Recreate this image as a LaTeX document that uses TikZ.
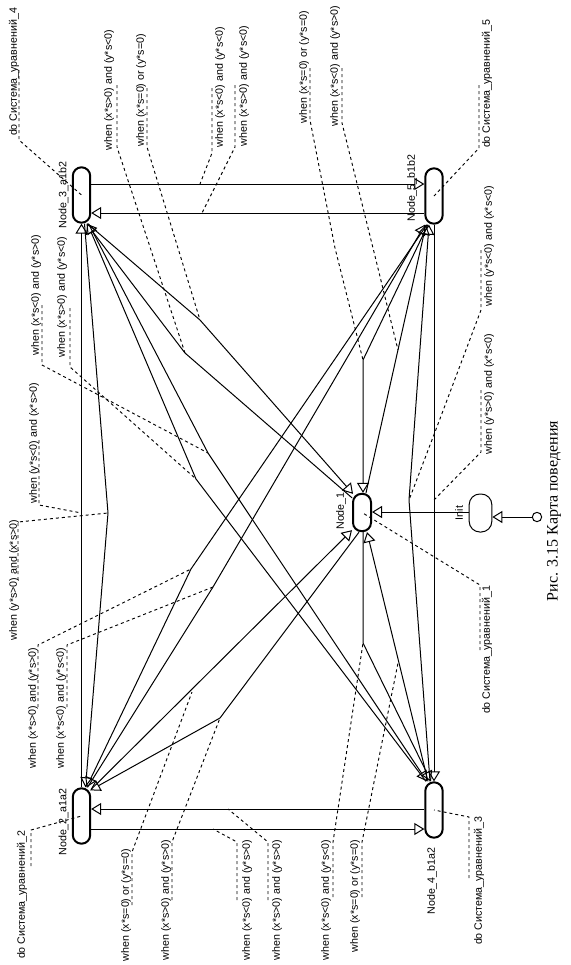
\documentclass[tikz,border=0pt]{standalone}
\usepackage{fontspec}
\setmainfont{Liberation Sans}
\newfontfamily\capfont{Liberation Serif}
\usetikzlibrary{arrows.meta,calc}
\tikzset{
  st/.style={draw, line width=1.5pt, rounded corners=6.4pt, minimum width=13pt, minimum height=41.5pt, inner sep=0pt},
  tr/.style={line width=0.75pt, -{Triangle[open,length=7.5pt,width=9pt]}},
  lead/.style={line width=0.7pt, dash pattern=on 2.25pt off 2.25pt},
  lbl/.style={rotate=90, font=\fontsize{8}{9.5}\selectfont, inner sep=0pt},
}
\begin{document}
\begin{tikzpicture}[x=0.75pt,y=-0.75pt]
\useasboundingbox (0,0) rectangle (571,965);
% states
\node[st] (N3) at (81.5,195) {};
\node[st] (N5) at (434,196) {};
\node[st] (N2) at (81.5,816) {};
\node[st] (N4) at (434,810) {};
\node[st, minimum width=13.5pt, minimum height=28pt] (N1) at (362,512.5) {};
\node[draw, line width=0.75pt, rounded corners=8pt, minimum width=17pt, minimum height=28.5pt, inner sep=0pt] (Init) at (480.5,513) {};
\node[draw, circle, line width=0.75pt, minimum size=7pt, inner sep=0pt] (S0) at (537,517) {};
% state names
\node[lbl] (nN3) at (63.5,195) {Node\_3\_a1b2};
\node[lbl] (nN5) at (412,188) {Node\_5\_b1b2};
\node[lbl] (nN1) at (341,511) {Node\_1};
\node[lbl] (nInit) at (459,513) {Init};
\node[lbl] (nN2) at (63.5,822) {Node\_2\_a1a2};
\node[lbl] (nN4) at (432,881) {Node\_4\_b1a2};
% helper coordinates
\coordinate (y184) at (0,184);
\coordinate (y213) at (0,213);
\coordinate (y809) at (0,809);
\coordinate (y829) at (0,829);
\coordinate (y517) at (0,517);
\coordinate (y512) at (0,512);
% bend / attach points
\coordinate (a1) at (200,184);
\coordinate (a2) at (202,213);
\coordinate (a3) at (213,829);
\coordinate (a4) at (228,809);
\coordinate (a5) at (81.5,513);
\coordinate (b6) at (108,513);
\coordinate (a7) at (434,500);
\coordinate (b8) at (409,500);
\coordinate (b9) at (200,320);
\coordinate (b10) at (185,353);
\coordinate (b11) at (363,360);
\coordinate (a12) at (192,692);
\coordinate (b13) at (220,718);
\coordinate (a14) at (398,663);
\coordinate (b15) at (363,643);
\coordinate (b16) at (208,453);
\coordinate (b17) at (196,479);
\coordinate (b18) at (191,569);
\coordinate (a19) at (213,587);
\coordinate (a20) at (398,350);
% transitions
\draw[tr] (S0) -- (Init.east |- y517);
\draw[tr] (Init.west |- y512) -- (N1.east |- y512);
\draw[tr] (N3.east |- y184) -- (N5.west |- y184);
\draw[tr] (N5.west |- y213) -- (N3.east |- y213);
\draw[tr] (N2.east |- y829) -- (N4.west |- y829);
\draw[tr] (N4.west |- y809) -- (N2.east |- y809);
\draw[tr] (N2.north) -- (N3.south);
\draw[tr] ($(N3.south)+(3,0)$) -- (b6) -- ($(N2.north)+(4,0)$);
\draw[tr] (N5.south) -- (N4.north);
\draw[tr] ($(N4.north)+(-4,0)$) -- (b8) -- ($(N5.south)+(-5,0)$);
\draw[tr] ($(N3.south)+(6,0)$) -- (b9) -- ($(N1.north west)+(1,1)$);
\draw[tr] ($(N1.north west)+(0,5)$) -- (b10) -- ($(N3.south)+(5,0)$);
\draw[tr] ($(N5.south)+(-6,0)$) -- (b11) -- (N1.north -| b11);
\draw[tr] ($(N1.north)+(4,0)$) -- ($(N5.south)+(-8,0)$);
\draw[tr] ($(N2.north east)+(0,2)$) -- ($(N1.south west)+(0,-2)$);
\draw[tr] ($(N1.south)+(-3,0)$) -- (b13) -- ($(N2.north east)+(-1,3)$);
\draw[tr] ($(N4.north)+(-6,0)$) -- ($(N1.south)+(5,0)$);
\draw[tr] (N1.south -| b15) -- (b15) -- ($(N4.north)+(-3,0)$);
\draw[tr] ($(N3.south)+(7,0)$) -- (b16) -- ($(N4.north)+(-7,0)$);
\draw[tr] ($(N4.north)+(-8,0)$) -- (b17) -- ($(N3.south)+(6,0)$);
\draw[tr] ($(N5.south)+(-7,0)$) -- (b18) -- ($(N2.north)+(5,0)$);
\draw[tr] ($(N2.north)+(6,0)$) -- (a19) -- ($(N5.south)+(-9,0)$);
% labels: top
\node[lbl] (L1) at (109,90) {when (x*s>0) and (y*s<0)};
\draw[lead] (117,85) -- (117,147) -- (b10);
\node[lbl] (L2) at (141,90) {when (x*s=0) or (y*s=0)};
\draw[lead] (147,88) -- (147,147) -- (b9);
\node[lbl] (L3) at (220,87) {when (x*s<0) and (y*s<0)};
\draw[lead] (212,88) -- (212,153) -- (a1);
\node[lbl] (L4) at (244,86) {when (x*s>0) and (y*s<0)};
\draw[lead] (235,85) -- (235,147) -- (a2);
\node[lbl] (L5) at (304,67) {when (x*s=0) or (y*s=0)};
\draw[lead] (310,68) -- (310,120) -- (335,248) -- (b11);
\node[lbl] (L6) at (335,66) {when (x*s<0) and (y*s>0)};
\draw[lead] (342,68) -- (342,123) -- (373,248) -- (a20);
\node[lbl] (D4) at (14,72) {do Система\_уравнений\_4};
\draw[lead] (19,70) -- (19,140) -- (N3.center);
\node[lbl] (D5) at (487,84) {do Система\_уравнений\_5};
\draw[lead] (479,85) -- (479,148) -- (N5.center);
% labels: left column
\node[lbl] (Z1) at (36,295) {when (x*s<0) and (y*s>0)};
\draw[lead] (42,305) -- (42,365) -- (b16);
\node[lbl] (Z2) at (62,297) {when (x*s>0) and (y*s<0)};
\draw[lead] (70,308) -- (70,367) -- (b17);
\node[lbl] (Z3) at (34,443) {when (y*s<0) and (x*s>0)};
\draw[lead] (39,440) -- (39,505) -- (a5);
\node[lbl] (Z4) at (14,580) {when (y*s>0) and (x*s>0)};
\draw[lead] (18,580) -- (18,522) -- (b6);
\node[lbl] (Z5) at (33,708) {when (x*s>0) and (y*s>0)};
\draw[lead] (38,707) -- (38,645) -- (b18);
\node[lbl] (Z6) at (61,708) {when (x*s<0) and (y*s<0)};
\draw[lead] (67,707) -- (67,645) -- (a19);
% labels: bottom
\node[lbl] (B1) at (126,905) {when (x*s=0) or (y*s=0)};
\draw[lead] (132,905) -- (132,852) -- (a12);
\node[lbl] (B2) at (166,900) {when (x*s>0) and (y*s>0)};
\draw[lead] (172,900) -- (172,842) -- (b13);
\node[lbl] (B3) at (247,900) {when (x*s<0) and (y*s>0)};
\draw[lead] (237,900) -- (237,842) -- (a3);
\node[lbl] (B4) at (277,900) {when (x*s>0) and (y*s>0)};
\draw[lead] (268,900) -- (268,842) -- (a4);
\node[lbl] (B5) at (326,900) {when (x*s<0) and (y*s<0)};
\draw[lead] (333,897) -- (333,842) -- (b15);
\node[lbl] (B6) at (355,896) {when (x*s=0) or (y*s=0)};
\draw[lead] (362,897) -- (362,842) -- (a14);
\node[lbl] (D2) at (22,895) {do Система\_уравнений\_2};
\draw[lead] (31,866) -- (31,830) -- (N2.center);
\node[lbl] (D3) at (479,881) {do Система\_уравнений\_3};
\draw[lead] (469,878) -- (469,817) -- (N4.center);
% labels: right
\node[lbl] (R1) at (489,246) {when (y*s<0) and (x*s<0)};
\draw[lead] (481,250) -- (481,310) -- (435,432) -- (b8);
\node[lbl] (R2) at (489,394) {when (y*s>0) and (x*s<0)};
\draw[lead] (481,390) -- (481,452) -- (a7);
\node[lbl] (D1) at (487,650) {do Система\_уравнений\_1};
\draw[lead] (480,650) -- (480,585) -- (N1.center);
% caption
\node[rotate=90, font=\capfont\fontsize{12}{14}\selectfont, inner sep=0pt] (cap) at (554,511) {Рис. 3.15 Карта поведения};
\end{tikzpicture}
\end{document}
